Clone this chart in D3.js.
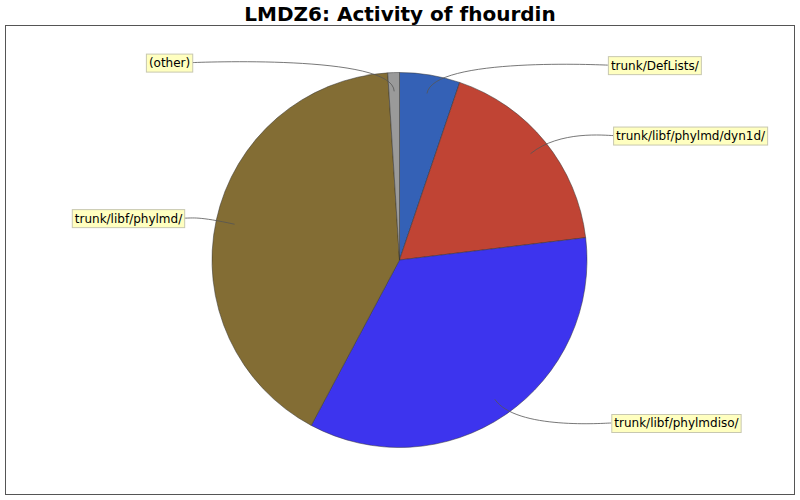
<!DOCTYPE html>
<html>
<head>
<meta charset="utf-8">
<script src="https://cdn.jsdelivr.net/npm/d3@7"></script>
<style>
  html, body { margin: 0; padding: 0; background: #fff; }
  svg { display: block; }
</style>
</head>
<body>
<svg id="chart" width="800" height="500"></svg>
<script>
const title = "LMDZ6: Activity of fhourdin";
const categories = ["trunk/DefLists/", "trunk/libf/phylmd/dyn1d/", "trunk/libf/phylmdiso/", "trunk/libf/phylmd/", "(other)"];
const values = [5.2, 17.9, 34.7, 41.2, 1.0];
const colors = ["#3461b6", "#c04434", "#3d34ee", "#836d34", "#9a9a9a"];

const W = 800, H = 500;
const svg = d3.select("#chart");
svg.append("rect").attr("width", W).attr("height", H).attr("fill", "#fff");

svg.append("text")
  .attr("x", 400).attr("y", 21)
  .attr("text-anchor", "middle")
  .attr("font-family", "DejaVu Sans")
  .attr("font-weight", "bold")
  .attr("font-size", 20)
  .text(title);

svg.append("rect")
  .attr("x", 5.5).attr("y", 25.5).attr("width", 789).attr("height", 469)
  .attr("fill", "#fff").attr("stroke", "#555").attr("stroke-width", 1);

const cx = 399.5, cy = 260, R = 187.5;
const data = categories.map((c, i) => ({ name: c, value: values[i], color: colors[i] }));
const pie = d3.pie().sort(null).value(d => d.value);
const arcs = pie(data);
const arc = d3.arc().innerRadius(0).outerRadius(R);

const g = svg.append("g").attr("transform", `translate(${cx},${cy})`);
g.selectAll("path.slice").data(arcs).join("path")
  .attr("class", "slice")
  .attr("d", arc)
  .attr("fill", d => d.data.color)
  .attr("stroke", "#333")
  .attr("stroke-width", 0.5);

// labels and links
const labelR = 197.5, linkR = 0.9 * R, elbowR = 1.1 * R;
const lg = svg.append("g");
arcs.forEach(a => {
  const th = (a.startAngle + a.endAngle) / 2;
  const s = Math.sin(th), c = Math.cos(th);
  const right = s >= 0;
  const ly = cy - c * labelR;
  const edgeX = right ? cx + 207 + 8.5 * Math.abs(s) : cx - 207 - 8.5 * Math.abs(s);
  const anchorX = right ? cx + elbowR : cx - elbowR;
  const ex = cx + s * elbowR, ey = cy - c * elbowR;
  const sx = cx + s * linkR, sy = cy - c * linkR;
  const p = d3.path();
  p.moveTo(edgeX, ly);
  p.bezierCurveTo(anchorX, ly, ex, ey, sx, sy);
  lg.append("path").attr("d", p.toString())
    .attr("fill", "none").attr("stroke", "#555").attr("stroke-width", 0.8);

  const t = lg.append("text")
    .attr("font-family", "DejaVu Sans")
    .attr("font-size", 12)
    .attr("fill", "#000")
    .text(a.data.name);
  const tw = t.node().getComputedTextLength();
  const bw = tw + 5, bh = 18;
  const bx = right ? edgeX : edgeX - bw;
  const by = ly - bh / 2;
  lg.insert("rect", () => t.node())
    .attr("x", bx + 0.5).attr("y", by + 0.5).attr("width", bw).attr("height", bh)
    .attr("fill", "#ffffc0").attr("stroke", "#c8c8b0").attr("stroke-width", 1);
  t.attr("x", bx + 3).attr("y", ly + 4.5);
});
</script>
</body>
</html>
